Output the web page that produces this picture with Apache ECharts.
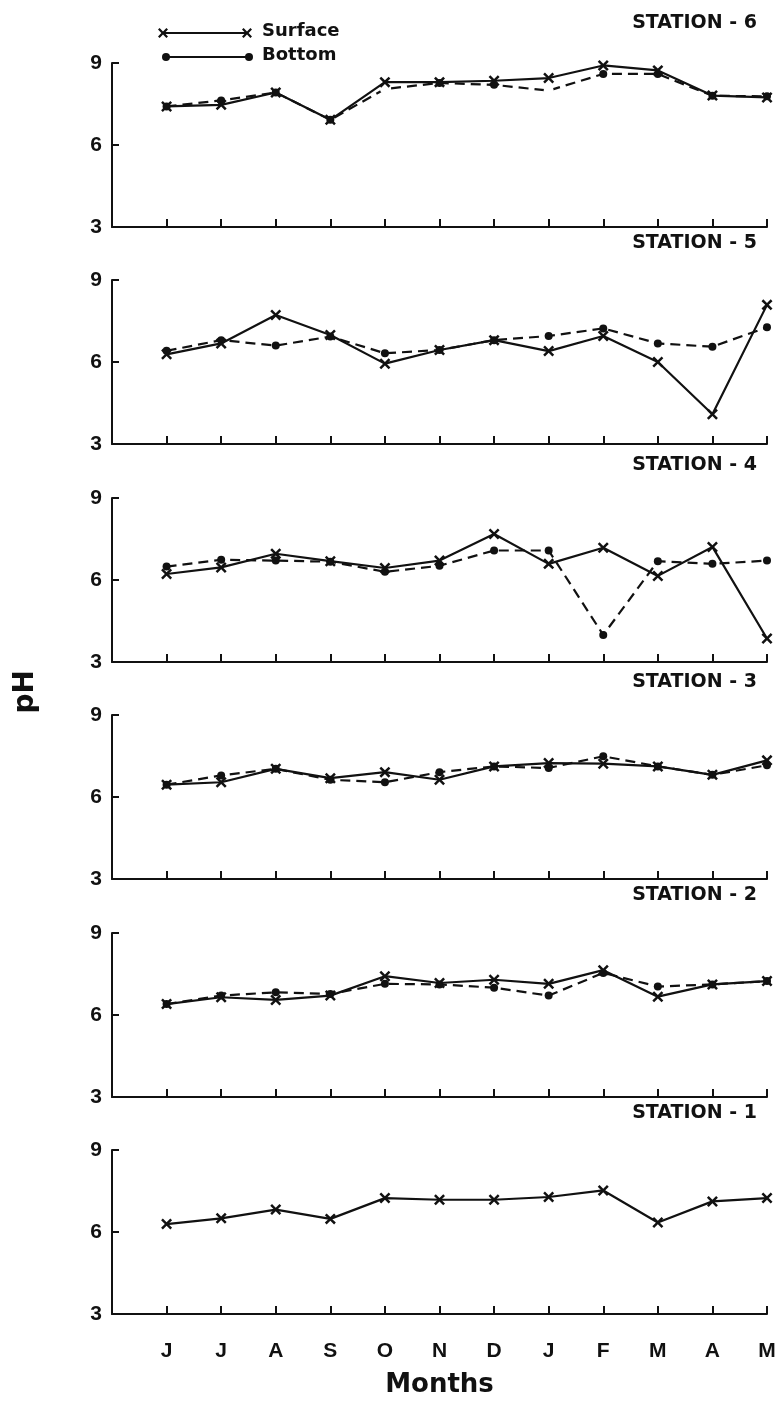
<!DOCTYPE html>
<html>
<head>
<meta charset="utf-8">
<script src="https://cdn.jsdelivr.net/npm/echarts@6/dist/echarts.min.js"></script>
<style>
html, body { margin: 0; padding: 0; background: #fff; }
#chart { width: 783px; height: 1403px; }
</style>
</head>
<body>
<div id="chart"></div>
<script>
// months June .. May
const months = ['J', 'J', 'A', 'S', 'O', 'N', 'D', 'J', 'F', 'M', 'A', 'M'];
const yTicks = [3, 6, 9];

// panels from top to bottom
const stationNames = ['STATION - 6', 'STATION - 5', 'STATION - 4', 'STATION - 3', 'STATION - 2', 'STATION - 1'];

const surface6 = [7.41, 7.47, 7.92, 6.92, 8.30, 8.30, 8.35, 8.45, 8.91, 8.73, 7.81, 7.74];
const bottom6  = [7.41, 7.63, 7.92, 6.92, 8.05, 8.27, 8.20, 7.99, 8.60, 8.60, 7.80, 7.78];
const surface5 = [6.28, 6.68, 7.72, 6.99, 5.94, 6.44, 6.80, 6.40, 6.95, 6.00, 4.09, 8.09];
const bottom5  = [6.41, 6.80, 6.60, 6.93, 6.32, 6.44, 6.80, 6.95, 7.23, 6.68, 6.56, 7.27];
const surface4 = [6.22, 6.46, 6.96, 6.69, 6.44, 6.71, 7.68, 6.59, 7.18, 6.15, 7.21, 3.86];
const bottom4  = [6.49, 6.74, 6.71, 6.67, 6.30, 6.52, 7.08, 7.08, 3.99, 6.69, 6.59, 6.71];
const surface3 = [6.45, 6.54, 7.03, 6.69, 6.91, 6.63, 7.12, 7.24, 7.22, 7.12, 6.81, 7.34];
const bottom3  = [6.45, 6.79, 7.03, 6.63, 6.54, 6.91, 7.12, 7.06, 7.49, 7.12, 6.81, 7.16];
const surface2 = [6.40, 6.65, 6.55, 6.71, 7.42, 7.17, 7.29, 7.14, 7.64, 6.67, 7.12, 7.24];
const bottom2  = [6.40, 6.71, 6.83, 6.77, 7.14, 7.12, 7.00, 6.71, 7.54, 7.04, 7.12, 7.24];
const surface1 = [6.29, 6.50, 6.82, 6.48, 7.24, 7.18, 7.18, 7.28, 7.52, 6.35, 7.12, 7.24];

const surfaceSets = [surface6, surface5, surface4, surface3, surface2, surface1];
const bottomSets = [bottom6, bottom5, bottom4, bottom3, bottom2, null];
// station 6 bottom points drawn as open circles (O, J)
const openBottom6 = [4, 7];

const gridTops = [63, 280, 498, 715, 933, 1150];
const titleTops = [9, 229, 451, 668, 881, 1099];
const panelH = 164;
const fontFam = '"Liberation Sans", "DejaVu Sans", sans-serif';
const wideFam = '"DejaVu Sans", sans-serif';

const crossPts = [[0,1.6],[1.6,0],[5,3.4],[8.4,0],[10,1.6],[6.6,5],[10,8.4],[8.4,10],[5,6.6],[1.6,10],[0,8.4],[3.4,5]];
const crossPath = 'path://M' + crossPts.map(p => p.join(',')).join('L') + 'Z';

const chart = echarts.init(document.getElementById('chart'));

const grids = [], xAxes = [], yAxes = [], series = [], titles = [];
gridTops.forEach((top, i) => {
    const last = i === gridTops.length - 1;
    grids.push({ left: 112, right: 16, top: top, height: panelH });
    titles.push({
        text: stationNames[i], right: 21, top: titleTops[i],
        textStyle: { fontFamily: wideFam, fontSize: 19, fontWeight: 'bold', color: '#111' }
    });
    xAxes.push({
        type: 'value', gridIndex: i, min: 0, max: 12, interval: 1,
        axisLine: { show: true, onZero: false, lineStyle: { color: '#111', width: 2 } },
        axisTick: { show: true, inside: true, length: 8, lineStyle: { color: '#111', width: 2 } },
        splitLine: { show: false },
        axisLabel: {
            show: last, margin: 27, color: '#111', fontFamily: fontFam, fontSize: 21, fontWeight: 'bold',
            formatter: v => (v >= 1 && v <= 12 ? months[v - 1] : '')
        },
        name: last ? 'Months' : '', nameLocation: 'middle', nameGap: 58,
        nameTextStyle: { fontFamily: wideFam, fontSize: 26, fontWeight: 'bold', color: '#111' }
    });
    yAxes.push({
        type: 'value', gridIndex: i, min: yTicks[0], max: yTicks[yTicks.length - 1], interval: 3,
        axisLine: { show: true, lineStyle: { color: '#111', width: 2 } },
        axisTick: { show: true, inside: true, length: 7, lineStyle: { color: '#111', width: 2 } },
        splitLine: { show: false },
        axisLabel: { margin: 10, color: '#111', fontFamily: fontFam, fontSize: 21, fontWeight: 'bold' }
    });
    const bottom = bottomSets[i];
    if (bottom) {
        series.push({
            type: 'line', xAxisIndex: i, yAxisIndex: i, clip: false,
            data: bottom.map((v, k) => {
                const item = { value: [k + 1, v] };
                if (i === 0 && openBottom6.includes(k)) {
                    item.symbol = 'emptyCircle';
                    item.itemStyle = { color: '#fff', borderColor: '#111', borderWidth: 1.5 };
                }
                return item;
            }),
            symbol: 'circle', symbolSize: 8,
            itemStyle: { color: '#111' },
            lineStyle: { color: '#111', width: 2.2, type: [10, 6] },
            z: 2
        });
    }
    series.push({
        type: 'line', xAxisIndex: i, yAxisIndex: i, clip: false,
        data: surfaceSets[i].map((v, k) => [k + 1, v]),
        symbol: crossPath, symbolSize: 11,
        itemStyle: { color: '#111' },
        lineStyle: { color: '#111', width: 2.2 },
        z: 3
    });
});

function crossAt(x, y) {
    return { type: 'polygon', shape: { points: crossPts.map(p => [x + p[0] - 5, y + p[1] - 5]) }, style: { fill: '#111' } };
}

// legend drawn by hand: line with marks at both ends
const legendGraphic = [
    { type: 'line', shape: { x1: 163, y1: 33, x2: 247, y2: 33 }, style: { stroke: '#111', lineWidth: 2.2 } },
    crossAt(163, 33),
    crossAt(247, 33),
    { type: 'text', left: 262, top: 22, style: { text: 'Surface', fill: '#111', font: 'bold 18px ' + wideFam } },
    { type: 'line', shape: { x1: 166, y1: 57, x2: 249, y2: 57 }, style: { stroke: '#111', lineWidth: 2.2 } },
    { type: 'circle', shape: { cx: 166, cy: 57, r: 4 }, style: { fill: '#111' } },
    { type: 'circle', shape: { cx: 249, cy: 57, r: 4 }, style: { fill: '#111' } },
    { type: 'text', left: 262, top: 46, style: { text: 'Bottom', fill: '#111', font: 'bold 18px ' + wideFam } },
    { type: 'text', left: 12, top: 670, rotation: Math.PI / 2, style: { text: 'pH', fill: '#111', font: 'bold 28px ' + wideFam } }
];

chart.setOption({
    backgroundColor: '#fff',
    animation: false,
    title: titles,
    grid: grids,
    xAxis: xAxes,
    yAxis: yAxes,
    series: series,
    graphic: legendGraphic
});
</script>
</body>
</html>
